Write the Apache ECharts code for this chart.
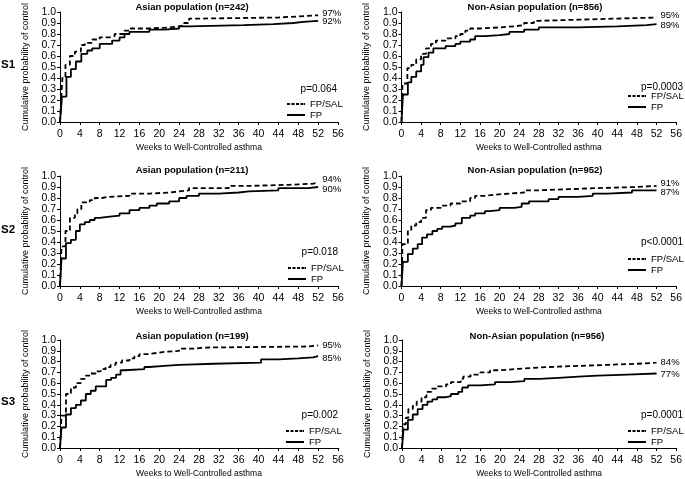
<!DOCTYPE html>
<html>
<head>
<meta charset="utf-8">
<script src="https://cdn.jsdelivr.net/npm/echarts@6/dist/echarts.min.js"></script>
<style>
html,body{margin:0;padding:0;background:#fff;}
#chart{width:685px;height:479px;}
</style>
</head>
<body>
<div id="chart"></div>
<script>
// ---------- DATA ----------
var xTicks = [0,4,8,12,16,20,24,28,32,36,40,44,48,52,56];
var yTicks = [0.0,0.1,0.2,0.3,0.4,0.5,0.6,0.7,0.8,0.9,1.0];
var seriesNames = ['FP/SAL','FP'];
var rowLabels = ['S1','S2','S3'];
var panelTitles = ['Asian population (n=242)','Non-Asian population (n=856)',
                   'Asian population (n=211)','Non-Asian population (n=952)',
                   'Asian population (n=199)','Non-Asian population (n=956)'];
var pValues = ['p=0.064','p=0.0003','p=0.018','p<0.0001','p=0.002','p=0.0001'];
var salEndLabels = ['97%','95%','94%','91%','95%','84%'];
var fpEndLabels  = ['92%','89%','90%','87%','85%','77%'];
var xAxisTitle = 'Weeks to Well-Controlled asthma';
var yAxisTitle = 'Cumulative probability of control';

// [week, cumulative probability]
var s1AsianSal = [[0,0],[0.3,0.27],[0.5,0.41],[1.1,0.52],[2,0.60],[3,0.64],[4.2,0.70],[5,0.72],[6.5,0.75],[8,0.77],[10,0.78],[11,0.80],[13,0.83],[14,0.85],[18,0.86],[22,0.87],[24,0.88],[25,0.90],[26,0.94],[28,0.95],[44,0.96],[48,0.97],[52,0.97]];
var s1AsianFp = [[0,0],[0.4,0.23],[1.3,0.41],[2.2,0.48],[3.2,0.55],[4.3,0.62],[5.5,0.65],[6.5,0.67],[8,0.71],[10.5,0.74],[12,0.77],[13,0.80],[14,0.82],[18,0.84],[21,0.85],[24,0.87],[26,0.88],[37,0.89],[43,0.90],[47,0.91],[49,0.92],[52,0.92]];
var s1NonAsianSal = [[0,0],[0.2,0.35],[1.2,0.49],[2,0.52],[3,0.57],[4,0.62],[5,0.67],[6,0.71],[7,0.74],[9,0.76],[11,0.78],[12,0.80],[13,0.83],[14,0.85],[16,0.86],[20,0.87],[23,0.88],[25,0.90],[27,0.92],[28,0.93],[36,0.94],[44,0.95],[52,0.95]];
var s1NonAsianFp = [[0,0],[0.3,0.25],[1.3,0.36],[2,0.41],[3,0.46],[4,0.52],[4.5,0.59],[5.5,0.63],[6.5,0.67],[9,0.69],[11,0.71],[12,0.73],[14,0.75],[15,0.78],[17,0.79],[20,0.80],[22,0.82],[25,0.84],[28,0.86],[36,0.87],[44,0.88],[50,0.89],[52,0.89]];
var s2AsianSal = [[0,0],[0.3,0.36],[1.1,0.50],[2,0.62],[3,0.66],[3.5,0.70],[4.3,0.76],[6,0.78],[7,0.80],[8.5,0.81],[9.5,0.82],[14,0.84],[18,0.85],[22,0.86],[24,0.87],[26,0.89],[34,0.91],[38,0.92],[46,0.93],[51,0.94],[52,0.94]];
var s2AsianFp = [[0,0],[0.3,0.25],[1.2,0.39],[2.2,0.42],[3.2,0.50],[4,0.56],[5,0.58],[6,0.60],[7,0.62],[8,0.63],[10,0.64],[12,0.66],[14,0.69],[16,0.71],[18,0.73],[19.5,0.75],[22,0.77],[24,0.80],[25.5,0.82],[28,0.84],[32,0.85],[36,0.86],[38,0.87],[44,0.89],[50,0.90],[52,0.90]];
var s2NonAsianSal = [[0,0],[0.2,0.38],[1.3,0.51],[2,0.55],[3,0.58],[4,0.62],[5,0.69],[6,0.71],[8,0.73],[10,0.75],[12,0.77],[14,0.80],[15,0.82],[17,0.83],[19,0.84],[22,0.85],[25,0.87],[28,0.88],[34,0.89],[40,0.90],[48,0.91],[52,0.91]];
var s2NonAsianFp = [[0,0],[0.3,0.22],[1.3,0.29],[2.3,0.34],[3.3,0.38],[4.2,0.44],[5.2,0.47],[6.3,0.50],[7.3,0.52],[8.3,0.54],[10,0.55],[11,0.57],[12.3,0.62],[14,0.64],[15,0.66],[17,0.68],[18,0.69],[20,0.71],[23,0.72],[24.5,0.75],[26,0.77],[30,0.79],[32,0.81],[36,0.82],[39,0.84],[42,0.85],[47,0.87],[52,0.87]];
var s3AsianSal = [[0,0],[0.3,0.30],[1.2,0.50],[2.2,0.56],[3.2,0.60],[4.2,0.64],[5.2,0.67],[6.2,0.69],[7.2,0.71],[8.2,0.73],[9.2,0.75],[10.2,0.77],[11.2,0.79],[12.5,0.81],[14,0.83],[15,0.85],[16,0.87],[18,0.88],[19.5,0.89],[21,0.90],[24,0.92],[27,0.93],[29,0.94],[50,0.95],[52,0.95]];
var s3AsianFp = [[0,0],[0.3,0.19],[1.2,0.31],[2.2,0.37],[3.2,0.40],[4.2,0.44],[5.2,0.50],[6.2,0.53],[7.2,0.57],[9.3,0.63],[10.3,0.65],[11.3,0.68],[12.2,0.72],[13,0.73],[17,0.75],[18,0.76],[21,0.77],[24,0.78],[31,0.79],[40.5,0.82],[44,0.83],[48,0.84],[51,0.85],[52,0.85]];
var s3NonAsianSal = [[0,0],[0.2,0.22],[0.8,0.28],[1.3,0.36],[2.2,0.39],[3,0.43],[4,0.47],[5,0.52],[6,0.55],[7,0.57],[9,0.59],[10,0.61],[12,0.64],[12.5,0.66],[14,0.68],[16,0.70],[18,0.72],[20,0.73],[23,0.74],[26,0.75],[30,0.76],[36,0.77],[42,0.78],[48,0.79],[52,0.79]];
var s3NonAsianFp = [[0,0],[0.3,0.17],[1.2,0.26],[2.2,0.31],[3.2,0.36],[4.2,0.40],[5.2,0.43],[6.2,0.45],[7.2,0.47],[9,0.48],[10,0.50],[11.5,0.52],[12.3,0.56],[13.5,0.58],[16,0.59],[19,0.61],[22,0.62],[25,0.64],[28,0.65],[32,0.66],[36,0.67],[40,0.68],[46,0.69],[52,0.69]];

var salSets = [s1AsianSal, s1NonAsianSal, s2AsianSal, s2NonAsianSal, s3AsianSal, s3NonAsianSal];
var fpSets  = [s1AsianFp, s1NonAsianFp, s2AsianFp, s2NonAsianFp, s3AsianFp, s3NonAsianFp];

// ---------- LAYOUT / STYLE ----------
var FONT = '"Liberation Sans", Arial, sans-serif';
var grids = [
  {left:60,    top:12,  width:278,   height:110},
  {left:401.5, top:12,  width:278.5, height:110},
  {left:60,    top:176, width:278,   height:110},
  {left:401.5, top:176, width:278.5, height:110},
  {left:60,    top:340, width:278,   height:110},
  {left:402,   top:340, width:278,   height:111}
];
var titlePos = [[192,7],[535,7],[192,170],[535,170],[192,336],[537,336]];
var pPos = [[337,89],[683,87],[338,252],[683,242],[338,415],[683,415]];
var legendPos = [[287,99],[628,91],[288,263],[628,254],[286,426],[628,426]];
var rowLabelPos = [[1,65],[1,230],[1,402]];
var salLabelOffset = [[0,-2],[0,-2],[0,-3],[0,-3],[0,0],[0,0]];
var fpLabelOffset  = [[0,1],[0,1],[0,2],[0,2],[0,2],[0,1]];
var dashedIcon = 'path://M0,0h3v2h-3zM4.5,0h3v2h-3zM9,0h3v2h-3zM13.5,0h3v2h-3zM17,0h1v2h-1z';
var solidIcon = 'path://M0,0h18v2h-18z';

var option = {
  backgroundColor:'#fff',
  animation:false,
  grid: grids.map(function(g){ return {left:g.left, top:g.top, width:g.width, height:g.height, containLabel:false}; }),
  xAxis: grids.map(function(g,i){
    return {
      type:'value', gridIndex:i, min:xTicks[0], max:xTicks[xTicks.length-1], interval:4,
      offset:3,
      name:xAxisTitle, nameLocation:'middle', nameGap:18,
      nameTextStyle:{fontFamily:FONT, fontSize:8.5, color:'#000'},
      axisLine:{lineStyle:{color:'#000', width:1}},
      axisTick:{length:3, lineStyle:{color:'#000'}},
      axisLabel:{fontFamily:FONT, fontSize:10.5, color:'#000', margin:4},
      splitLine:{show:false}
    };
  }),
  yAxis: grids.map(function(g,i){
    return {
      type:'value', gridIndex:i, min:yTicks[0], max:yTicks[yTicks.length-1], interval:0.1,
      name:yAxisTitle, nameLocation:'middle', nameGap:30,
      nameTextStyle:{fontFamily:FONT, fontSize:9, color:'#000'},
      axisLine:{show:true, lineStyle:{color:'#000', width:1}},
      axisTick:{show:true, length:3, lineStyle:{color:'#000'}},
      axisLabel:{fontFamily:FONT, fontSize:10.5, color:'#000', margin:4,
        formatter:function(v){ return v.toFixed(1); }},
      splitLine:{show:false}
    };
  }),
  legend: legendPos.map(function(p){
    return {
      left:p[0], top:p[1], orient:'vertical', padding:0, itemGap:1,
      itemWidth:18, itemHeight:2, selectedMode:false, symbolKeepAspect:false,
      textStyle:{fontFamily:FONT, fontSize:9.5, color:'#000', lineHeight:10},
      itemStyle:{color:'#000', borderWidth:0},
      data:[{name:seriesNames[0], icon:dashedIcon}, {name:seriesNames[1], icon:solidIcon}]
    };
  }),
  series: [],
  graphic: []
};

for (var i = 0; i < 6; i++) {
  option.series.push({
    name:seriesNames[0], type:'line', step:'end', xAxisIndex:i, yAxisIndex:i,
    data:salSets[i], symbol:'none', silent:true,
    lineStyle:{color:'#000', width:1.8, type:[5,3]},
    itemStyle:{color:'#000'},
    endLabel:{show:true, formatter:salEndLabels[i], distance:4, offset:salLabelOffset[i],
      fontFamily:FONT, fontSize:9.5, color:'#000'}
  });
  option.series.push({
    name:seriesNames[1], type:'line', step:'end', xAxisIndex:i, yAxisIndex:i,
    data:fpSets[i], symbol:'none', silent:true,
    lineStyle:{color:'#000', width:1.8, type:'solid'},
    itemStyle:{color:'#000'},
    endLabel:{show:true, formatter:fpEndLabels[i], distance:4, offset:fpLabelOffset[i],
      fontFamily:FONT, fontSize:9.5, color:'#000'}
  });
  option.graphic.push({
    type:'text', x:titlePos[i][0], y:titlePos[i][1],
    style:{text:panelTitles[i], font:'bold 9.5px ' + FONT, fill:'#000', align:'center', verticalAlign:'middle'}
  });
  option.graphic.push({
    type:'text', x:pPos[i][0], y:pPos[i][1],
    style:{text:pValues[i], font:'10px ' + FONT, fill:'#000', align:'right', verticalAlign:'middle'}
  });
}
for (var r = 0; r < 3; r++) {
  option.graphic.push({
    type:'text', x:rowLabelPos[r][0], y:rowLabelPos[r][1],
    style:{text:rowLabels[r], font:'bold 11.5px ' + FONT, fill:'#000', align:'left', verticalAlign:'middle'}
  });
}

var chart = echarts.init(document.getElementById('chart'), null, {renderer:'canvas'});
chart.setOption(option);
</script>
</body>
</html>
